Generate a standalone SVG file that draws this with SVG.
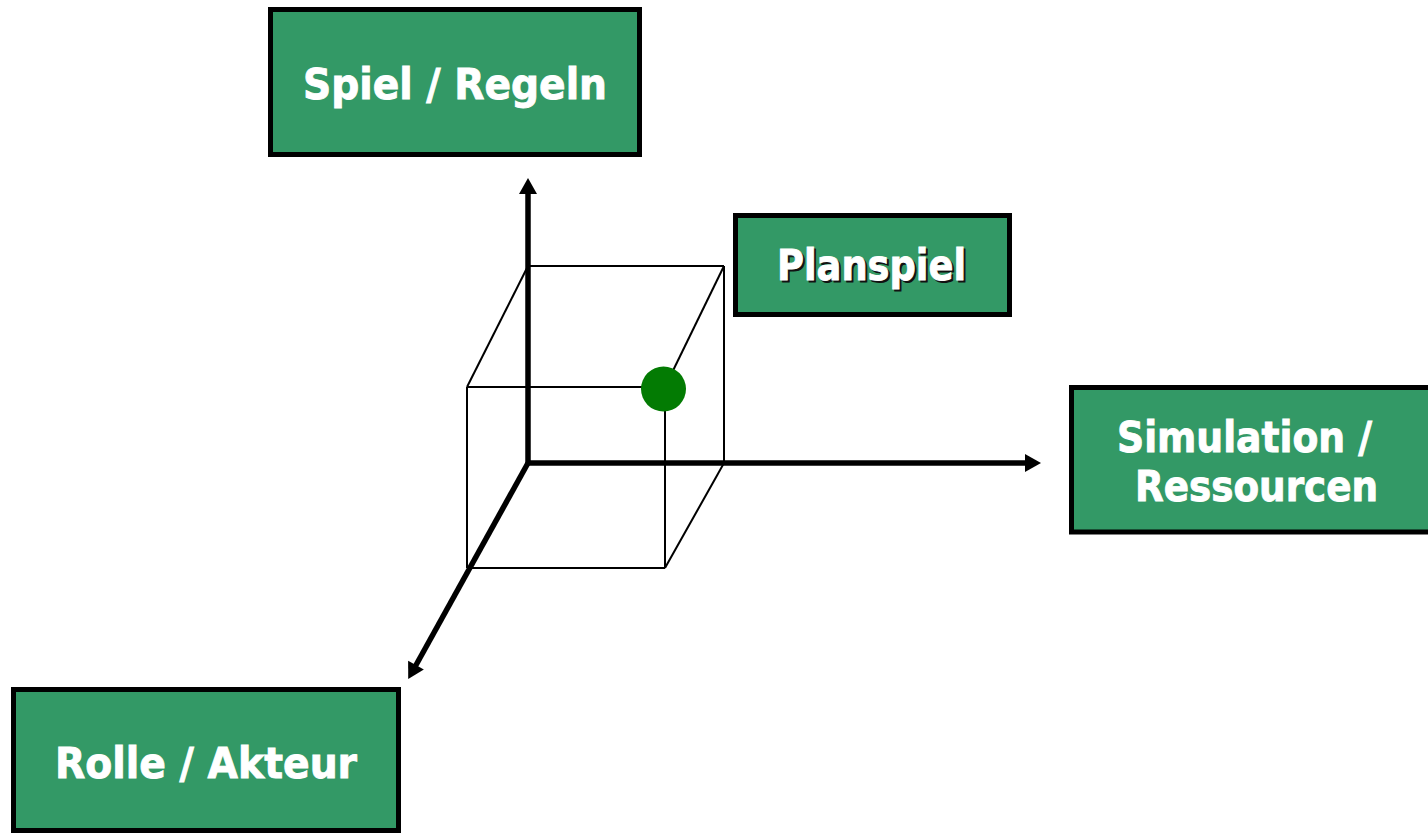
<svg xmlns="http://www.w3.org/2000/svg" width="1428" height="833" viewBox="0 0 1428 833">
  <style>
    .box { fill: #339966; stroke: #000; stroke-width: 5; }
    .lbl { font-family: "DejaVu Sans", Verdana, sans-serif; font-weight: bold; font-size: 42px; fill: #fff; stroke: #fff; stroke-width: 0.9; text-anchor: middle; }
    .shadow { fill: #111; stroke: #111; }
    .axis { stroke: #000; stroke-width: 5.5; fill: none; }
    .edge { stroke: #000; stroke-width: 2; fill: none; }
  </style>
  <defs>
    <marker id="arrow" markerUnits="userSpaceOnUse" markerWidth="18" markerHeight="20" refX="1" refY="9" orient="auto" overflow="visible">
      <path d="M0,0 L16,9 L0,18 z" fill="#000"/>
    </marker>
  </defs>
  <rect width="1428" height="833" fill="#fff"/>

  <g id="cube">
    <line class="edge" x1="528" y1="266" x2="724" y2="266"/>
    <line class="edge" x1="724" y1="266" x2="724" y2="463"/>
    <line class="edge" x1="467" y1="387" x2="665" y2="387"/>
    <line class="edge" x1="467" y1="387" x2="467" y2="568"/>
    <line class="edge" x1="467" y1="568" x2="665" y2="568"/>
    <line class="edge" x1="665" y1="387" x2="665" y2="568"/>
    <line class="edge" x1="528" y1="266" x2="467" y2="387"/>
    <line class="edge" x1="724" y1="266" x2="665" y2="387"/>
    <line class="edge" x1="724" y1="463" x2="665" y2="568"/>
  </g>

  <g id="connectors">
    <line class="axis" x1="528" y1="465" x2="528" y2="193" marker-end="url(#arrow)"/>
    <line class="axis" x1="526" y1="463" x2="1026" y2="463" marker-end="url(#arrow)"/>
    <line class="axis" x1="528" y1="463" x2="415.5" y2="666" marker-end="url(#arrow)"/>
  </g>

  <g id="point">
    <circle cx="663.5" cy="389" r="22.5" fill="#037B03"/>
  </g>

  <g id="node-spiel">
    <rect class="box" x="270.5" y="9.5" width="369" height="145"/>
    <text class="lbl" x="455" y="99" textLength="304" lengthAdjust="spacingAndGlyphs">Spiel / Regeln</text>
  </g>

  <g id="node-planspiel">
    <rect class="box" x="735.5" y="215.5" width="274" height="99"/>
    <text class="lbl shadow" x="873.5" y="282" textLength="189" lengthAdjust="spacingAndGlyphs">Planspiel</text>
    <text class="lbl" x="871.5" y="280" textLength="189" lengthAdjust="spacingAndGlyphs">Planspiel</text>
  </g>

  <g id="node-simulation">
    <rect class="box" x="1071.5" y="387.5" width="370" height="144.5"/>
    <text class="lbl" x="1244.5" y="452" textLength="255" lengthAdjust="spacingAndGlyphs">Simulation /</text>
    <text class="lbl" x="1256.5" y="501" textLength="243" lengthAdjust="spacingAndGlyphs">Ressourcen</text>
  </g>

  <g id="node-rolle">
    <rect class="box" x="13.5" y="689.5" width="385" height="141"/>
    <text class="lbl" x="206" y="778" textLength="302" lengthAdjust="spacingAndGlyphs">Rolle / Akteur</text>
  </g>
</svg>
